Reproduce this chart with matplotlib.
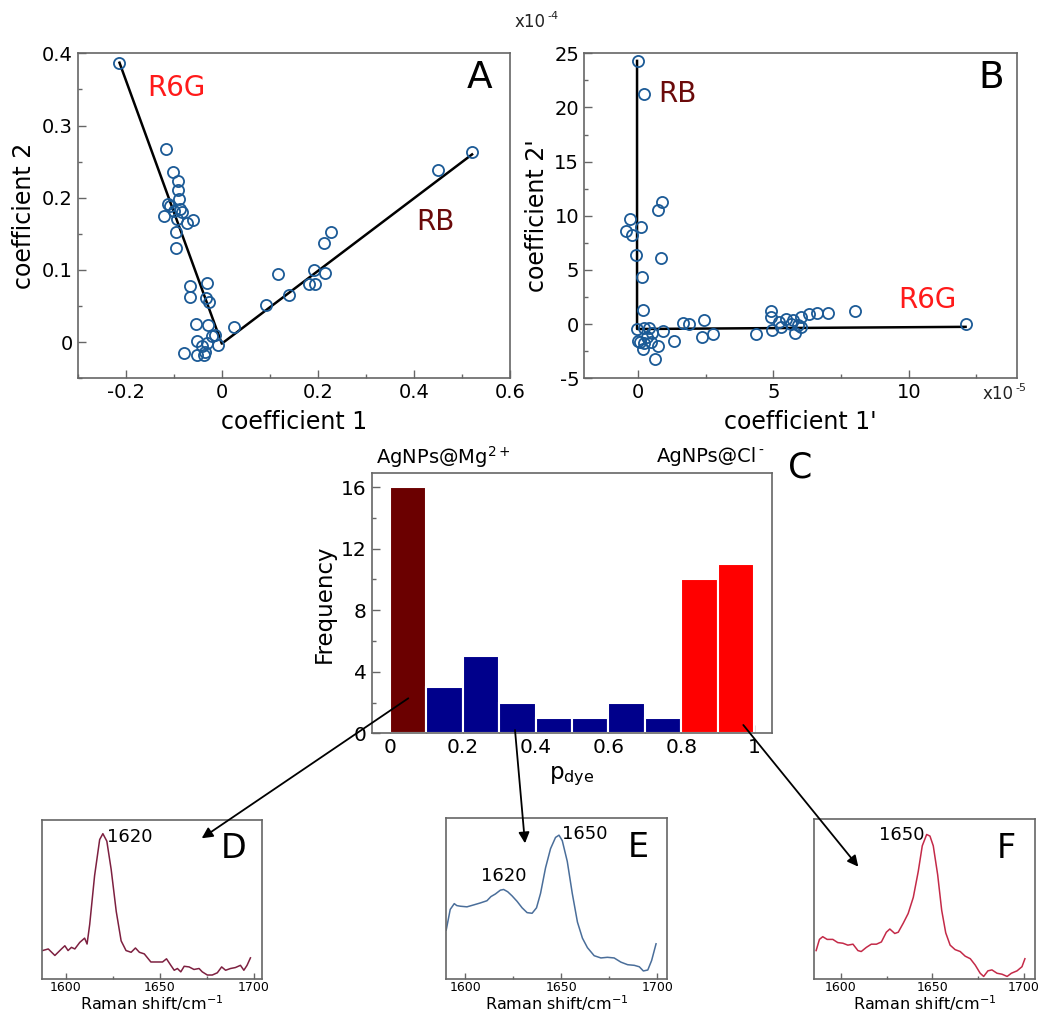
import matplotlib
matplotlib.use("Agg")
import matplotlib.pyplot as plt
from matplotlib.patches import FancyArrowPatch
from matplotlib.ticker import MultipleLocator, FuncFormatter
import numpy as np

plt.rcParams['font.family'] = ['DejaVu Sans']
plt.rcParams['axes.unicode_minus'] = False

# ---------------- data ----------------
# Panel A
a_x = [-0.213, 0.521, 0.451, 0.228, 0.213, 0.191, 0.214, 0.181, 0.193, 0.117, 0.140, 0.092, 0.026,
       -0.116, -0.102, -0.092, -0.092, -0.090, -0.111, -0.108, -0.120, -0.099, -0.087, -0.083, -0.094,
       -0.073, -0.060, -0.095, -0.095, -0.067, -0.031, -0.066, -0.033, -0.026, -0.054, -0.028, -0.078,
       -0.052, -0.051, -0.042, -0.035, -0.031, -0.021, -0.014, -0.007, -0.038]
a_y = [0.387, 0.263, 0.238, 0.152, 0.138, 0.0995, 0.096, 0.081, 0.080, 0.094, 0.066, 0.052, 0.021,
       0.268, 0.235, 0.223, 0.211, 0.198, 0.192, 0.188, 0.175, 0.181, 0.184, 0.180, 0.170,
       0.165, 0.169, 0.152, 0.130, 0.078, 0.082, 0.063, 0.061, 0.055, 0.025, 0.024, -0.015,
       0.002, -0.018, -0.005, -0.013, -0.001, 0.008, 0.010, -0.004, -0.018]
a_line_x = [-0.213, 0.0, 0.521]
a_line_y = [0.387, -0.002, 0.260]

# Panel B (x in 1e-5, y in 1e-4)
b_x = [0.0, 0.23, 0.9, 0.73, -0.31, -0.43, -0.23, 0.09, -0.09, 0.84, 0.16, 0.17, 8.0, 7.01, 6.62,
       6.31, 6.0, 5.72, 5.47, 5.2, 4.92, 4.92, 5.66, 5.9, 6.03, 5.29, 4.94, 5.78, 4.37, 12.1,
       2.43, 2.36, 2.77, 1.64, 1.88, 1.32, 0.92, -0.06, 0.21, 0.41, 0.53, 0.06, 0.21, 0.31, 0.49,
       0.74, 0.18, 0.61, 0.0]
b_y = [24.3, 21.2, 11.3, 10.5, 9.7, 8.6, 8.2, 9.0, 6.4, 6.1, 4.35, 1.33, 1.17, 1.02, 1.02,
       0.9, 0.7, 0.34, 0.49, 0.19, 1.2, 0.65, 0.03, -0.12, -0.28, -0.22, -0.52, -0.83, -0.9, 0.03,
       0.4, -1.2, -0.9, 0.12, 0.03, -1.57, -0.59, -0.43, -0.34, -0.34, -0.83, -1.67, -1.76, -1.2, -1.67,
       -1.98, -2.28, -3.2, -1.57]
b_line_x = [-0.04, -0.04, 12.1]
b_line_y = [24.3, -0.45, -0.25]

# Panel C histogram
c_edges = [0.0, 0.1, 0.2, 0.3, 0.4, 0.5, 0.6, 0.7, 0.8, 0.9]
c_counts = [16, 3, 5, 2, 1, 1, 2, 1, 10, 11]
c_colors = ['#6b0000', '#00008b', '#00008b', '#00008b', '#00008b', '#00008b', '#00008b', '#00008b',
            '#ff0000', '#ff0000']
c_xticks = [0, 0.2, 0.4, 0.6, 0.8, 1.0]
c_xticklabels = ['0', '0.2', '0.4', '0.6', '0.8', '1']

# Spectra
d_shift = [1587.7, 1590.7, 1594.2, 1597.7, 1599.5, 1601.2, 1603.0, 1604.8, 1607.4, 1610.0, 1611.3,
           1612.7, 1615.3, 1618.0, 1619.7, 1621.8, 1624.1, 1626.8, 1629.4, 1632.0, 1634.7, 1637.0,
           1639.1, 1641.7, 1645.2, 1648.8, 1651.4, 1653.5, 1655.8, 1657.6, 1659.3, 1661.1, 1662.9,
           1665.5, 1668.1, 1670.8, 1672.5, 1675.2, 1677.8, 1680.5, 1682.8, 1684.9, 1687.5, 1690.1,
           1692.8, 1694.6, 1696.3, 1698.1]
d_int = [0.179, 0.189, 0.148, 0.189, 0.209, 0.179, 0.199, 0.189, 0.230, 0.257, 0.220,
         0.343, 0.650, 0.877, 0.914, 0.867, 0.690, 0.425, 0.240, 0.179, 0.168, 0.195,
         0.168, 0.158, 0.107, 0.107, 0.107, 0.127, 0.086, 0.055, 0.066, 0.045, 0.080,
         0.076, 0.060, 0.066, 0.045, 0.025, 0.025, 0.039, 0.076, 0.055, 0.066, 0.072,
         0.086, 0.055, 0.086, 0.133]

e_shift = [1590.1, 1592.2, 1594.3, 1595.6, 1597.4, 1600.9, 1604.4, 1607.8, 1611.3, 1613.4, 1615.7,
           1618.3, 1620.0, 1622.1, 1624.4, 1627.0, 1629.6, 1632.2, 1634.8, 1637.1, 1639.2, 1641.8,
           1644.4, 1647.0, 1648.8, 1650.5, 1653.1, 1655.7, 1658.4, 1661.0, 1663.6, 1667.1, 1670.6,
           1674.0, 1677.5, 1681.0, 1684.5, 1688.0, 1690.6, 1692.7, 1695.0, 1697.0, 1699.3]
e_int = [0.304, 0.433, 0.469, 0.457, 0.453, 0.449, 0.461, 0.473, 0.487, 0.513, 0.529,
         0.553, 0.557, 0.543, 0.517, 0.483, 0.443, 0.413, 0.409, 0.443, 0.533, 0.692,
         0.811, 0.881, 0.895, 0.861, 0.732, 0.533, 0.354, 0.254, 0.195, 0.145, 0.131,
         0.135, 0.131, 0.105, 0.089, 0.085, 0.076, 0.050, 0.056, 0.115, 0.219]

f_shift = [1586.6, 1588.4, 1590.2, 1592.6, 1595.7, 1598.4, 1601.2, 1603.9, 1606.7, 1609.4, 1611.2,
           1614.0, 1616.7, 1619.5, 1622.2, 1624.9, 1626.8, 1629.5, 1631.4, 1634.1, 1636.8, 1639.6,
           1642.3, 1644.5, 1646.9, 1648.7, 1650.5, 1652.9, 1655.1, 1657.3, 1659.7, 1662.4, 1665.2,
           1667.9, 1670.7, 1673.4, 1676.1, 1678.0, 1680.3, 1682.5, 1685.3, 1688.0, 1690.8, 1693.1,
           1696.2, 1698.9, 1700.5]
f_int = [0.178, 0.248, 0.265, 0.248, 0.248, 0.228, 0.224, 0.212, 0.218, 0.178, 0.172,
         0.198, 0.218, 0.218, 0.232, 0.293, 0.313, 0.285, 0.293, 0.349, 0.410, 0.511,
         0.673, 0.834, 0.905, 0.895, 0.834, 0.653, 0.430, 0.289, 0.212, 0.184, 0.172,
         0.143, 0.127, 0.087, 0.036, 0.016, 0.051, 0.057, 0.036, 0.030, 0.016, 0.036,
         0.051, 0.077, 0.127]

# ---------------- figure ----------------
W, H = 1043, 1014
fig = plt.figure(figsize=(W / 100, H / 100), dpi=100)
fig.patch.set_facecolor('white')

SPINE = '#666666'
MARK = '#1b5a96'


def style(ax, labelsize=14):
    for s in ax.spines.values():
        s.set_color(SPINE)
        s.set_linewidth(1.2)
    ax.tick_params(which='both', direction='in', color=SPINE, labelsize=labelsize)
    ax.tick_params(which='major', length=6, width=1)
    ax.tick_params(which='minor', length=3, width=1)


def fmt(v, pos):
    if abs(v) < 1e-9:
        return '0'
    return ('%g' % round(v, 6))


def ax_rect(l, t, r, b):
    return [l / W, 1 - b / H, (r - l) / W, (b - t) / H]


def fx(px):
    return px / W


def fy(py):
    return 1 - py / H


# Panel A
axA = fig.add_axes(ax_rect(77.7, 53.3, 510, 378.3))
axA.plot(a_line_x, a_line_y, color='black', lw=1.8, zorder=2)
axA.plot(a_x, a_y, 'o', mfc='none', mec=MARK, mew=1.3, ms=8, zorder=3)
axA.set_xlim(-0.3, 0.6)
axA.set_ylim(-0.05, 0.4)
axA.xaxis.set_major_locator(MultipleLocator(0.2))
axA.xaxis.set_minor_locator(MultipleLocator(0.1))
axA.yaxis.set_major_locator(MultipleLocator(0.1))
axA.yaxis.set_minor_locator(MultipleLocator(0.05))
axA.xaxis.set_major_formatter(FuncFormatter(fmt))
axA.yaxis.set_major_formatter(FuncFormatter(fmt))
style(axA)
axA.set_xlabel('coefficient 1', fontsize=17, labelpad=6)
axA.set_ylabel('coefficient 2', fontsize=17)
axA.text(-0.155, 0.352, 'R6G', color='#ff1a1a', fontsize=20, va='center', ha='left')
axA.text(0.405, 0.167, 'RB', color='#6b0a0a', fontsize=20, va='center', ha='left')
axA.text(0.93, 0.925, 'A', transform=axA.transAxes, fontsize=27, ha='center', va='center')

# Panel B
axB = fig.add_axes(ax_rect(584, 53.3, 1017, 378.3))
axB.plot(b_line_x, b_line_y, color='black', lw=1.8, zorder=2)
axB.plot(b_x, b_y, 'o', mfc='none', mec=MARK, mew=1.3, ms=8, zorder=3)
axB.set_xlim(-2, 14)
axB.set_ylim(-5, 25)
axB.xaxis.set_major_locator(MultipleLocator(5))
axB.xaxis.set_minor_locator(MultipleLocator(2.5))
axB.yaxis.set_major_locator(MultipleLocator(5))
axB.yaxis.set_minor_locator(MultipleLocator(2.5))
axB.xaxis.set_major_formatter(FuncFormatter(fmt))
axB.yaxis.set_major_formatter(FuncFormatter(fmt))
style(axB)
axB.set_xlabel("coefficient 1'", fontsize=17, labelpad=6)
axB.set_ylabel("coefficient 2'", fontsize=17)
axB.text(0.75, 21.2, 'RB', color='#6b0a0a', fontsize=20, va='center', ha='left')
axB.text(9.6, 2.2, 'R6G', color='#ff1a1a', fontsize=20, va='center', ha='left')
axB.text(0.94, 0.925, 'B', transform=axB.transAxes, fontsize=27, ha='center', va='center')
# exponent notes (plain hyphen superscripts as in the reference)
fig.text(fx(546), fy(22), 'x10', fontsize=12, ha='right', va='center', color='#222222')
fig.text(fx(547), fy(16), '-4', fontsize=8, ha='left', va='center', color='#222222')
fig.text(fx(1014), fy(394), 'x10', fontsize=12, ha='right', va='center', color='#222222')
fig.text(fx(1015), fy(388), '-5', fontsize=8, ha='left', va='center', color='#222222')

# Panel C
axC = fig.add_axes(ax_rect(371.7, 473.3, 772.3, 733.3))
axC.bar(c_edges, c_counts, width=0.1, align='edge', color=c_colors, edgecolor='white', lw=1.5, zorder=2)
axC.set_xlim(-0.05, 1.05)
axC.set_ylim(0, 16.9)
axC.set_xticks(c_xticks)
axC.set_xticklabels(c_xticklabels)
axC.xaxis.set_minor_locator(MultipleLocator(0.1))
axC.yaxis.set_major_locator(MultipleLocator(4))
axC.yaxis.set_minor_locator(MultipleLocator(2))
style(axC, labelsize=14.5)
axC.set_ylabel('Frequency', fontsize=16.5)
axC.set_xlabel(r'p$_{\mathregular{dye}}$', fontsize=16.5, labelpad=5)
fig.text(fx(376), fy(457), r'AgNPs@Mg$^{2+}$', fontsize=14, ha='left', va='center')
fig.text(fx(757), fy(457), 'AgNPs@Cl', fontsize=14, ha='right', va='center')
fig.text(fx(758), fy(451), '-', fontsize=10, ha='left', va='center')
fig.text(fx(800), fy(467), 'C', fontsize=25, ha='center', va='center')


# Spectra insets
def spectrum(rect, x, y, color, xlim, letter, peaks):
    ax = fig.add_axes(ax_rect(*rect))
    ax.plot(x, y, color=color, lw=1.1)
    ax.set_xlim(*xlim)
    ax.set_ylim(0, 1)
    ax.set_yticks([])
    ax.xaxis.set_major_locator(MultipleLocator(50))
    ax.xaxis.set_minor_locator(MultipleLocator(25))
    style(ax, labelsize=9)
    ax.tick_params(which='major', length=4, pad=1.5)
    ax.tick_params(which='minor', length=2)
    ax.set_xlabel(r'Raman shift/cm$^{-1}$', fontsize=11.5, labelpad=-0.5)
    ax.text(0.87, 0.82, letter, transform=ax.transAxes, fontsize=24, ha='center', va='center')
    for (px, py, lab, ha) in peaks:
        ax.text(px, py, lab, fontsize=13, ha=ha, va='center')
    return ax


spectrum((41.7, 820, 262.3, 979), d_shift, d_int, '#7d2040', (1587.2, 1704.4), 'D',
         [(1622, 0.89, '1620', 'left')])
spectrum((446, 818.3, 667, 979), e_shift, e_int, '#4a6e9a', (1590, 1705), 'E',
         [(1620, 0.64, '1620', 'center'), (1650.5, 0.9, '1650', 'left')])
spectrum((814.3, 819.3, 1035, 979), f_shift, f_int, '#c42a48', (1585.6, 1706), 'F',
         [(1645.5, 0.9, '1650', 'right')])

# Arrows
arrows = [((408.3, 698.3), (201.7, 838.3)),
          ((515, 730), (525, 843.3)),
          ((743.3, 725), (858.3, 866.7))]
for (x0, y0), (x1, y1) in arrows:
    fig.add_artist(FancyArrowPatch((fx(x0), fy(y0)), (fx(x1), fy(y1)),
                                   transform=fig.transFigure, arrowstyle='-|>',
                                   mutation_scale=16, lw=1.3, color='black',
                                   shrinkA=0, shrinkB=0))

fig.savefig('out.png', dpi=100, facecolor='white')
